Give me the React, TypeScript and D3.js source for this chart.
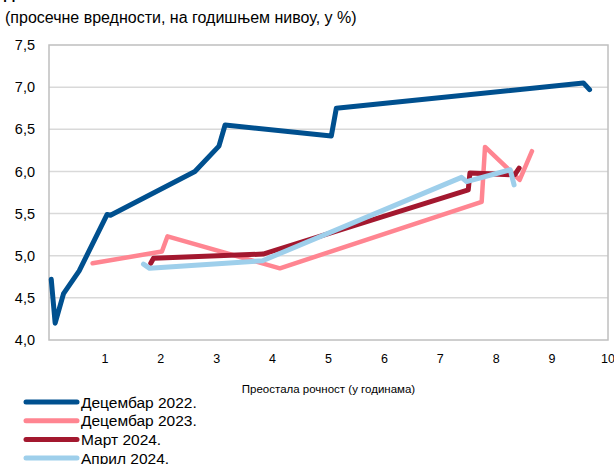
import * as d3 from 'd3'

const W = 614
const H = 464
const M = { top: 45, right: 6, bottom: 124, left: 49 }

// years to maturity / yield (%)
const dec2022X = [0.04, 0.11, 0.26, 0.54, 1.04, 1.1, 2.61, 3.04, 3.15, 5.05, 5.14, 9.56, 9.67]
const dec2022Y = [4.72, 4.2, 4.55, 4.82, 5.49, 5.48, 6.0, 6.3, 6.55, 6.42, 6.75, 7.05, 6.97]
const dec2023X = [0.78, 2.02, 2.12, 4.13, 7.74, 7.8, 8.42, 8.64]
const dec2023Y = [4.91, 5.05, 5.23, 4.85, 5.64, 6.29, 5.9, 6.24]
const mar2024X = [1.82, 1.87, 3.83, 7.5, 7.53, 8.33, 8.41]
const mar2024Y = [4.91, 4.97, 5.02, 5.78, 5.98, 5.96, 6.04]
const apr2024X = [1.69, 1.8, 3.82, 7.38, 7.47, 8.25, 8.32]
const apr2024Y = [4.9, 4.85, 4.94, 5.93, 5.88, 6.02, 5.84]

const seriesNames = ['Децембар 2022.', 'Децембар 2023.', 'Март 2024.', 'Април 2024.']
const seriesColors = ['#00508f', '#ff8591', '#a3182f', '#9ecfeb']
const seriesWidths = [5, 4.5, 5, 5]

const yTicks = [4.0, 4.5, 5.0, 5.5, 6.0, 6.5, 7.0, 7.5]
const xTicks = [1, 2, 3, 4, 5, 6, 7, 8, 9, 10]

const FONT = '"Liberation Sans", Arial, sans-serif'

export default function App() {
  const x = d3.scaleLinear().domain([0, 10]).range([M.left, W - M.right])
  const y = d3.scaleLinear().domain([4, 7.5]).range([H - M.bottom, M.top])

  const series = [
    { xs: dec2022X, ys: dec2022Y },
    { xs: dec2023X, ys: dec2023Y },
    { xs: mar2024X, ys: mar2024Y },
    { xs: apr2024X, ys: apr2024Y },
  ].map((s, i) => ({
    name: seriesNames[i],
    color: seriesColors[i],
    width: seriesWidths[i],
    points: s.xs.map((v, j) => [v, s.ys[j]] as [number, number]),
  }))

  const line = d3.line<[number, number]>()
    .x(d => x(d[0]))
    .y(d => y(d[1]))

  const fmt = (v: number) => v.toFixed(1).replace('.', ',')

  return (
    <div style={{ position: 'absolute', left: 0, top: 0 }}>
      <svg width={W} height={H} style={{ display: 'block', fontFamily: FONT }}>
        <rect width={W} height={H} fill="#fff" />

        {/* title (cut off at top) + subtitle */}
        <text x={4} y={-1} fontSize={15} fontWeight="bold" fill="#000">Динамика каматних стопа</text>
        <text x={5} y={23} fontSize={16} fill="#000">(просечне вредности, на годишњем нивоу, у %)</text>

        {/* grid */}
        {yTicks.slice(1, -1).map(t => (
          <line key={t} x1={x(0)} x2={x(10)} y1={y(t)} y2={y(t)} stroke="#d9d9d9" strokeWidth={1.5} />
        ))}
        <rect x={x(0)} y={y(7.5)} width={x(10) - x(0)} height={y(4) - y(7.5)}
          fill="none" stroke="#bfbfbf" strokeWidth={1.5} />

        {/* y labels */}
        {yTicks.map(t => (
          <text key={t} x={35} y={y(t)} dy="0.35em" textAnchor="end" fontSize={14.5} fill="#000">{fmt(t)}</text>
        ))}

        {/* x labels */}
        {xTicks.map(t => (
          <text key={t} x={x(t)} y={363} textAnchor="middle" fontSize={12.5} fill="#000">{t}</text>
        ))}
        <text x={(x(0) + x(10)) / 2} y={393} textAnchor="middle" fontSize={11.5} fill="#000">
          Преостала рочност (у годинама)
        </text>

        {/* lines */}
        {series.map(s => (
          <path key={s.name} d={line(s.points) || ''} fill="none" stroke={s.color}
            strokeWidth={s.width} strokeLinejoin="round" strokeLinecap="round" />
        ))}

        {/* legend */}
        {series.map((s, i) => {
          const ly = 402 + i * 18.7
          return (
            <g key={s.name}>
              <line x1={26} x2={77} y1={ly} y2={ly} stroke={s.color} strokeWidth={5} strokeLinecap="round" />
              <text x={81} y={ly} dy="0.36em" fontSize={15.5} fill="#000">{s.name}</text>
            </g>
          )
        })}
      </svg>
    </div>
  )
}
